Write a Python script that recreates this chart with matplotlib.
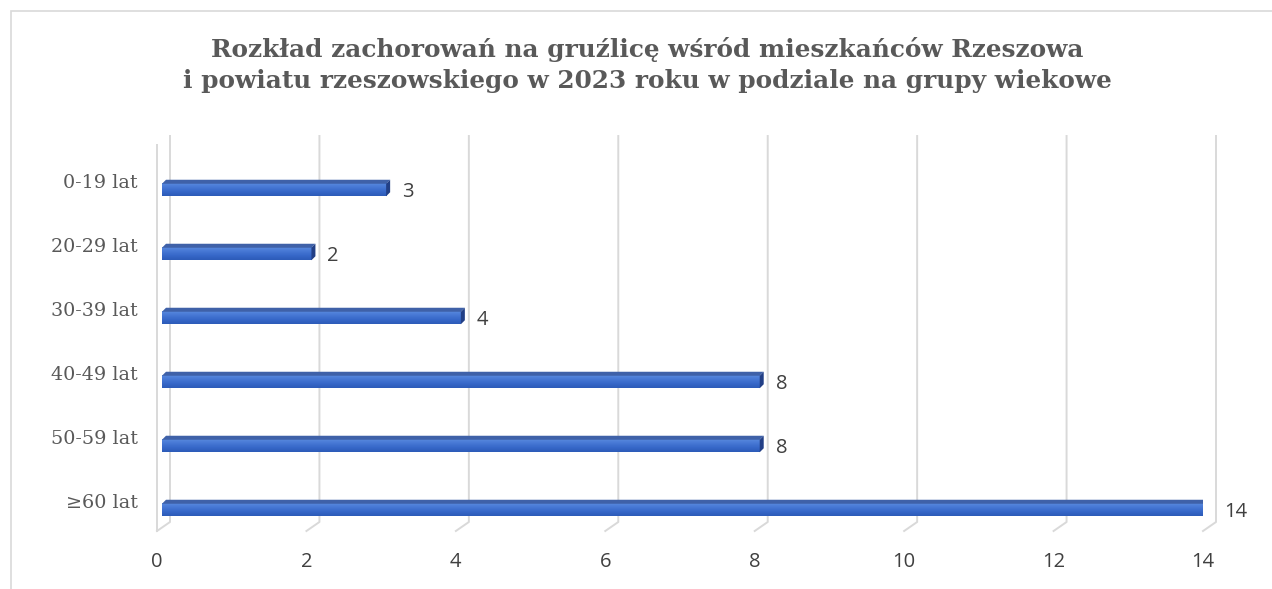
import numpy as np
import matplotlib

matplotlib.use("Agg")

import matplotlib.pyplot as plt
import matplotlib.transforms as mtransforms
from matplotlib.patches import Polygon, Rectangle
from matplotlib.colors import LinearSegmentedColormap

# data
categories = ["0-19 lat", "20-29 lat", "30-39 lat", "40-49 lat", "50-59 lat", "\u226560 lat"]
values = [3, 2, 4, 8, 8, 14]
x_ticks = [0, 2, 4, 6, 8, 10, 12, 14]

title = ("Rozkład zachorowań na gruźlicę wśród mieszkańców Rzeszowa\n"
         "i powiatu rzeszowskiego w 2023 roku w podziale na grupy wiekowe")

W, H = 1272, 589
fig = plt.figure(figsize=(W / 100, H / 100), dpi=100)

# axes box in pixels (front plane of the 3D chart)
left_px, right_px, top_px, bottom_px = 157, 1203, 145, 531
ax = fig.add_axes([left_px / W, (H - bottom_px) / H,
                   (right_px - left_px) / W, (bottom_px - top_px) / H])

PX_X = (right_px - left_px) / 14.0
PX_Y = 64.0
y_top = (top_px - 190) / PX_Y
y_bot = 5 + (bottom_px - 510) / PX_Y

# -----------------------------------------
# back grid (3D look)
# -----------------------------------------
grid_col = "#d9d9d9"
gx = 13 / PX_X
gy = 9 / PX_Y
g_top = (136 - 190) / PX_Y
for t in x_ticks:
    ax.plot([t, t + gx, t + gx], [y_bot, y_bot - gy, g_top],
            color=grid_col, lw=1.4, clip_on=False, zorder=1)
# side wall front edge
ax.plot([0, 0], [y_bot, y_top], color=grid_col, lw=1.4,
        clip_on=False, zorder=1)

# -----------------------------------------
# bars
# -----------------------------------------
x0 = 5 / PX_X
h = 12.5 / PX_Y
dx = 4 / PX_X
dy = 4 / PX_Y
cmap = LinearSegmentedColormap.from_list(
    "bar", ["#5889de", "#4677d4", "#3667c8", "#2d5bb8"])
grad = np.linspace(0, 1, 64).reshape(-1, 1)

for i, v in enumerate(values):
    x1 = x0 + v
    yt = i - h / 2
    yb = i + h / 2
    ax.imshow(grad, extent=[x0, x1, yb, yt], aspect="auto", cmap=cmap,
              origin="upper", zorder=3)
    ax.add_patch(Polygon([(x0, yt), (x1, yt), (x1 + dx, yt - dy), (x0 + dx, yt - dy)],
                         closed=True, facecolor="#3f61a8", edgecolor="none", zorder=3))
    ax.add_patch(Polygon([(x1, yb), (x1, yt), (x1 + dx, yt - dy), (x1 + dx, yb - dy)],
                         closed=True, facecolor="#223f86", edgecolor="none", zorder=3))
    ax.annotate(str(v), xy=(x1, i), xytext=(16, -2), textcoords="offset pixels",
                ha="left", va="center", fontsize=14.5, color="#404040",
                family="Open Sans", annotation_clip=False)

ax.set_xlim(0, 14)
ax.set_ylim(y_bot, y_top)

ax.set_xticks(x_ticks)
ax.set_xticklabels([str(t) for t in x_ticks], fontsize=14.5, color="#404040",
                   family="Open Sans")
ax.set_yticks(range(len(categories)))
ax.set_yticklabels(categories, fontsize=13.8, color="#595959", family="DejaVu Serif")
ax.tick_params(axis="x", length=0, pad=15)
ax.tick_params(axis="y", length=0, pad=14)

shift = mtransforms.ScaledTranslation(0, 9 / 100, fig.dpi_scale_trans)
for lab in ax.get_yticklabels():
    lab.set_transform(lab.get_transform() + shift)

for s in ax.spines.values():
    s.set_visible(False)
ax.set_facecolor("none")

# title
fig.text(647 / W, 1 - 65 / H, title, ha="center", va="center", fontsize=17.8,
         fontweight="bold", family="DejaVu Serif", color="#595959", linespacing=1.38)

# chart frame
fig.patches.append(Rectangle((11 / W, -0.1), 1.2, 1 - 11 / H + 0.1,
                             transform=fig.transFigure, fill=False,
                             edgecolor=grid_col, lw=1.2))

fig.savefig("out.png", dpi=100)
plt.close(fig)
